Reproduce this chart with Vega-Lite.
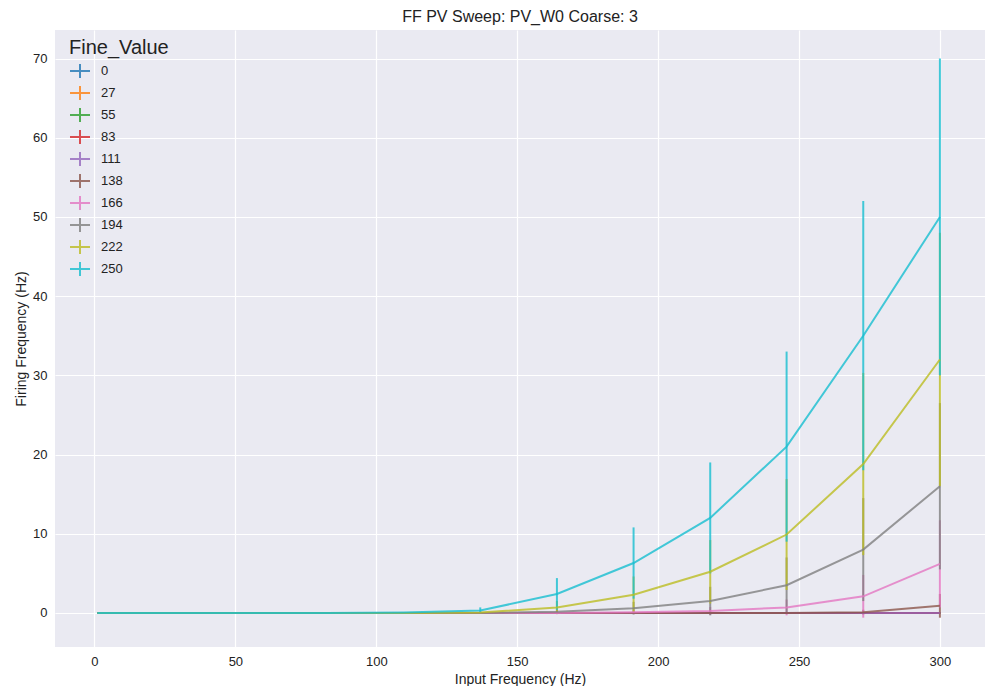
{
"$schema":"https://vega.github.io/schema/vega-lite/v6.json",
"width":930,"height":617,
"padding":{"left":14,"top":9,"right":0,"bottom":0},
"background":"white",
"title":{"text":"FF PV Sweep: PV_W0 Coarse: 3","font":"Liberation Sans","fontSize":16,"fontWeight":"normal","color":"#222","offset":5},
"config":{"view":{"fill":"#EAEAF2","stroke":null},
"axis":{"grid":true,"gridColor":"white","gridWidth":1.2,"domain":false,"ticks":false,"labelFont":"Liberation Sans","labelFontSize":13,"labelColor":"#222","titleFont":"Liberation Sans","titleFontSize":14,"titleFontWeight":"normal","titleColor":"#222","labelPadding":8}},
"data":{"values":[
{"f":0,"x":1,"y":0,"e":0},{"f":0,"x":28.2,"y":0,"e":0},{"f":0,"x":55.4,"y":0,"e":0},{"f":0,"x":82.5,"y":0,"e":0},{"f":0,"x":109.7,"y":0,"e":0},{"f":0,"x":136.9,"y":0,"e":0},{"f":0,"x":164.1,"y":0,"e":0},{"f":0,"x":191.3,"y":0,"e":0},{"f":0,"x":218.5,"y":0,"e":0},{"f":0,"x":245.6,"y":0,"e":0},{"f":0,"x":272.8,"y":0,"e":0},{"f":0,"x":300,"y":0,"e":0},
{"f":27,"x":1,"y":0,"e":0},{"f":27,"x":28.2,"y":0,"e":0},{"f":27,"x":55.4,"y":0,"e":0},{"f":27,"x":82.5,"y":0,"e":0},{"f":27,"x":109.7,"y":0,"e":0},{"f":27,"x":136.9,"y":0,"e":0},{"f":27,"x":164.1,"y":0,"e":0},{"f":27,"x":191.3,"y":0,"e":0},{"f":27,"x":218.5,"y":0,"e":0},{"f":27,"x":245.6,"y":0,"e":0},{"f":27,"x":272.8,"y":0,"e":0},{"f":27,"x":300,"y":0,"e":0},
{"f":55,"x":1,"y":0,"e":0},{"f":55,"x":28.2,"y":0,"e":0},{"f":55,"x":55.4,"y":0,"e":0},{"f":55,"x":82.5,"y":0,"e":0},{"f":55,"x":109.7,"y":0,"e":0},{"f":55,"x":136.9,"y":0,"e":0},{"f":55,"x":164.1,"y":0,"e":0},{"f":55,"x":191.3,"y":0,"e":0},{"f":55,"x":218.5,"y":0,"e":0},{"f":55,"x":245.6,"y":0,"e":0},{"f":55,"x":272.8,"y":0,"e":0},{"f":55,"x":300,"y":0,"e":0},
{"f":83,"x":1,"y":0,"e":0},{"f":83,"x":28.2,"y":0,"e":0},{"f":83,"x":55.4,"y":0,"e":0},{"f":83,"x":82.5,"y":0,"e":0},{"f":83,"x":109.7,"y":0,"e":0},{"f":83,"x":136.9,"y":0,"e":0},{"f":83,"x":164.1,"y":0,"e":0},{"f":83,"x":191.3,"y":0,"e":0},{"f":83,"x":218.5,"y":0,"e":0},{"f":83,"x":245.6,"y":0,"e":0},{"f":83,"x":272.8,"y":0,"e":0},{"f":83,"x":300,"y":0,"e":0},
{"f":111,"x":1,"y":0,"e":0},{"f":111,"x":28.2,"y":0,"e":0},{"f":111,"x":55.4,"y":0,"e":0},{"f":111,"x":82.5,"y":0,"e":0},{"f":111,"x":109.7,"y":0,"e":0},{"f":111,"x":136.9,"y":0,"e":0},{"f":111,"x":164.1,"y":0,"e":0},{"f":111,"x":191.3,"y":0,"e":0},{"f":111,"x":218.5,"y":0,"e":0},{"f":111,"x":245.6,"y":0,"e":0},{"f":111,"x":272.8,"y":0,"e":0},{"f":111,"x":300,"y":0,"e":0.1},
{"f":138,"x":1,"y":0,"e":0},{"f":138,"x":28.2,"y":0,"e":0},{"f":138,"x":55.4,"y":0,"e":0},{"f":138,"x":82.5,"y":0,"e":0},{"f":138,"x":109.7,"y":0,"e":0},{"f":138,"x":136.9,"y":0,"e":0},{"f":138,"x":164.1,"y":0,"e":0},{"f":138,"x":191.3,"y":0,"e":0},{"f":138,"x":218.5,"y":0,"e":0.1},{"f":138,"x":245.6,"y":0,"e":0.1},{"f":138,"x":272.8,"y":0.1,"e":0.3},{"f":138,"x":300,"y":0.9,"e":1.5},
{"f":166,"x":1,"y":0,"e":0},{"f":166,"x":28.2,"y":0,"e":0},{"f":166,"x":55.4,"y":0,"e":0},{"f":166,"x":82.5,"y":0,"e":0},{"f":166,"x":109.7,"y":0,"e":0},{"f":166,"x":136.9,"y":0,"e":0},{"f":166,"x":164.1,"y":0,"e":0.1},{"f":166,"x":191.3,"y":0.1,"e":0.2},{"f":166,"x":218.5,"y":0.25,"e":0.5},{"f":166,"x":245.6,"y":0.7,"e":1},{"f":166,"x":272.8,"y":2.1,"e":2.7},{"f":166,"x":300,"y":6.2,"e":5.5},
{"f":194,"x":1,"y":0,"e":0},{"f":194,"x":28.2,"y":0,"e":0},{"f":194,"x":55.4,"y":0,"e":0},{"f":194,"x":82.5,"y":0,"e":0},{"f":194,"x":109.7,"y":0,"e":0},{"f":194,"x":136.9,"y":0,"e":0.05},{"f":194,"x":164.1,"y":0.15,"e":0.3},{"f":194,"x":191.3,"y":0.6,"e":0.8},{"f":194,"x":218.5,"y":1.5,"e":1.8},{"f":194,"x":245.6,"y":3.5,"e":3.5},{"f":194,"x":272.8,"y":8,"e":6.5},{"f":194,"x":300,"y":16,"e":10.5},
{"f":222,"x":1,"y":0,"e":0},{"f":222,"x":28.2,"y":0,"e":0},{"f":222,"x":55.4,"y":0,"e":0},{"f":222,"x":82.5,"y":0,"e":0},{"f":222,"x":109.7,"y":0,"e":0},{"f":222,"x":136.9,"y":0.05,"e":0.1},{"f":222,"x":164.1,"y":0.7,"e":0.8},{"f":222,"x":191.3,"y":2.3,"e":2.3},{"f":222,"x":218.5,"y":5.2,"e":4},{"f":222,"x":245.6,"y":9.9,"e":7},{"f":222,"x":272.8,"y":18.8,"e":11.5},{"f":222,"x":300,"y":32,"e":16},
{"f":250,"x":1,"y":0,"e":0},{"f":250,"x":28.2,"y":0,"e":0},{"f":250,"x":55.4,"y":0,"e":0},{"f":250,"x":82.5,"y":0,"e":0},{"f":250,"x":109.7,"y":0.05,"e":0.05},{"f":250,"x":136.9,"y":0.3,"e":0.4},{"f":250,"x":164.1,"y":2.4,"e":2},{"f":250,"x":191.3,"y":6.3,"e":4.5},{"f":250,"x":218.5,"y":12,"e":7},{"f":250,"x":245.6,"y":21,"e":12},{"f":250,"x":272.8,"y":35,"e":17},{"f":250,"x":300,"y":50,"e":20}
]},
"encoding":{
"x":{"field":"x","type":"quantitative","scale":{"domain":[-14,316],"nice":false},"axis":{"values":[0,50,100,150,200,250,300]},"title":"Input Frequency (Hz)"},
"color":{"field":"f","type":"ordinal","scale":{"range":["#1f77b4","#ff7f0e","#2ca02c","#d62728","#9467bd","#8c564b","#e377c2","#7f7f7f","#bcbd22","#17becf"]},
"legend":{"title":"Fine_Value","orient":"none","legendX":14,"legendY":8,"titleFont":"Liberation Sans","titleFontSize":20,"titleFontWeight":"normal","titleColor":"#222","labelFont":"Liberation Sans","labelFontSize":13,"labelColor":"#222","symbolType":"M-1,0L1,0M0,-0.7L0,0.7","symbolSize":400,"symbolStrokeWidth":2,"rowPadding":0,"labelOffset":10,"titlePadding":2}}
},
"layer":[
{"mark":{"type":"errorbar","opacity":0.8,"thickness":2},"encoding":{"y":{"field":"y","type":"quantitative","scale":{"domain":[-4.3,73.6],"nice":false},"axis":{"values":[0,10,20,30,40,50,60,70]},"title":"Firing Frequency (Hz)"},"yError":{"field":"e"}}},
{"mark":{"type":"line","opacity":0.8,"strokeWidth":2},"encoding":{"y":{"field":"y","type":"quantitative"}}}
]
}
